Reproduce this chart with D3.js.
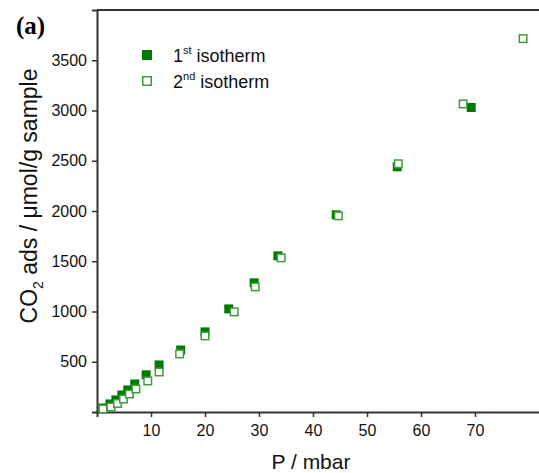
<!DOCTYPE html>
<html>
<head>
<meta charset="utf-8">
<script src="https://cdn.jsdelivr.net/npm/d3@7"></script>
<style>
  body { margin: 0; background: #fff; }
  svg { display: block; font-family: Arial, "Liberation Sans", sans-serif; }
</style>
</head>
<body>
<svg id="chart" width="539" height="473"></svg>
<script>
// P / mbar and CO2 uptake
const p_first = [1.1, 2.4, 3.5, 4.6, 5.7, 7.0, 9.1, 11.5, 15.5, 20.0, 24.4, 29.1, 33.5, 44.3, 55.6, 69.3];
const v_first = [40, 80, 120, 169, 219, 279, 370, 468, 617, 797, 1026, 1285, 1554, 1962, 2440, 3030];
const p_second = [1.1, 2.6, 3.8, 4.9, 6.0, 7.2, 9.4, 11.5, 15.3, 20.0, 25.4, 29.3, 34.1, 44.7, 55.8, 67.8, 78.9];
const v_second = [30, 50, 85, 129, 179, 229, 309, 398, 578, 757, 996, 1245, 1534, 1952, 2470, 3065, 3715];
const x_ticks = [10, 20, 30, 40, 50, 60, 70];
const y_ticks = [500, 1000, 1500, 2000, 2500, 3000, 3500];

const first = p_first.map((p, i) => ({p: p, v: v_first[i]}));
const second = p_second.map((p, i) => ({p: p, v: v_second[i]}));

const margin = {left: 97, top: 10, bottom: 412};
const svg = d3.select("#chart");

const x = d3.scaleLinear().domain([0, 85]).range([margin.left, margin.left + 85 * 5.4]);
const y = d3.scaleLinear().domain([0, 4000]).range([margin.bottom, margin.top]);

const axis_color = "#333";

// top border of the frame
svg.append("line")
  .attr("x1", margin.left).attr("x2", 539)
  .attr("y1", margin.top).attr("y2", margin.top)
  .attr("stroke", axis_color).attr("stroke-width", 2);

const gx = svg.append("g")
  .attr("transform", `translate(0,${margin.bottom})`)
  .call(d3.axisBottom(x).tickValues(x_ticks).tickFormat(d3.format("d")).tickSize(5).tickPadding(8));
const gy = svg.append("g")
  .attr("transform", `translate(${margin.left},0)`)
  .call(d3.axisLeft(y).tickValues(y_ticks).tickFormat(d3.format("d")).tickSize(5).tickPadding(5));

[gx, gy].forEach(function(g) {
  g.attr("font-size", null).attr("font-family", null);
  g.select(".domain").attr("stroke", axis_color).attr("stroke-width", 2);
  g.selectAll(".tick line").attr("stroke", axis_color).attr("stroke-width", 1.5);
  g.selectAll(".tick text")
    .attr("fill", "#111")
    .style("font-size", "16px");
});

const sz = 9;
const fill_green = "#007a00";
const open_green = "#3b9e3b";

svg.append("g").selectAll("rect")
  .data(first)
  .join("rect")
  .attr("x", (d) => x(d.p) - sz / 2)
  .attr("y", (d) => y(d.v) - sz / 2)
  .attr("width", sz).attr("height", sz)
  .attr("fill", fill_green);

svg.append("g").selectAll("rect")
  .data(second)
  .join("rect")
  .attr("x", (d) => x(d.p) - sz / 2 + 0.75)
  .attr("y", (d) => y(d.v) - sz / 2 + 0.75)
  .attr("width", sz - 1.5).attr("height", sz - 1.5)
  .attr("fill", "#fff")
  .attr("stroke", open_green)
  .attr("stroke-width", 1.5);

// legend
const legend = svg.append("g");
legend.append("rect")
  .attr("x", 142).attr("y", 50).attr("width", 10).attr("height", 10)
  .attr("fill", fill_green);
legend.append("rect")
  .attr("x", 142.75).attr("y", 76.75).attr("width", 8.5).attr("height", 8.5)
  .attr("fill", "#fff").attr("stroke", open_green).attr("stroke-width", 1.5);

const l1 = legend.append("text").attr("x", 173).attr("y", 62).style("font-size", "18px").attr("fill", "#111");
l1.append("tspan").text("1");
l1.append("tspan").attr("dy", -8).style("font-size", "11px").text("st");
l1.append("tspan").attr("dy", 8).text(" isotherm");

const l2 = legend.append("text").attr("x", 173).attr("y", 88).style("font-size", "18px").attr("fill", "#111");
l2.append("tspan").text("2");
l2.append("tspan").attr("dy", -8).style("font-size", "11px").text("nd");
l2.append("tspan").attr("dy", 8).text(" isotherm");

// panel letter
svg.append("text")
  .attr("x", 16).attr("y", 34)
  .style("font-family", "'Liberation Serif', 'Times New Roman', serif")
  .style("font-weight", "bold")
  .style("font-size", "25px")
  .text("(a)");

// axis titles
svg.append("text")
  .attr("x", 311).attr("y", 469)
  .attr("text-anchor", "middle")
  .style("font-size", "21px")
  .attr("fill", "#111")
  .text("P / mbar");

const yl = svg.append("text")
  .attr("transform", "translate(37,196) rotate(-90)")
  .attr("text-anchor", "middle")
  .style("font-size", "23px")
  .attr("fill", "#111");
yl.append("tspan").text("CO");
yl.append("tspan").attr("dy", 6).style("font-size", "14px").text("2");
yl.append("tspan").attr("dy", -6).text(" ads / \u03bcmol/g sample");
</script>
</body>
</html>
